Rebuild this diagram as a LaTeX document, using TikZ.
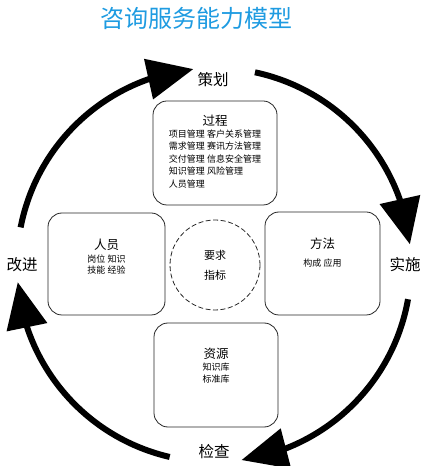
\documentclass[tikz,border=0pt]{standalone}
\usepackage{fontspec}
\setmainfont{Noto Sans CJK SC}
\newfontfamily\cjk{Noto Sans CJK SC}
\usetikzlibrary{arrows.meta,bending}
\definecolor{titleblue}{RGB}{30,155,225}
\tikzset{
  box/.style={draw=black!85, line width=0.8pt, rounded corners=14pt, align=center},
  lbl/.style={font=\cjk\fontsize{15.5}{18}\selectfont},
  small/.style={font=\cjk\fontsize{9}{12.5}\selectfont},
  cyc/.style={line width=6pt, -{Triangle[length=46pt,width=40pt]}}
}
\begin{document}
\begin{tikzpicture}[x=1pt, y=1pt]
\useasboundingbox (0,0) rectangle (428,466);
\node[font=\cjk\fontsize{24}{26}\selectfont, text=titleblue] (title) at (196, 448) {咨询服务能力模型};
\coordinate (c) at (214, 201);
\node[lbl] (plan) at (213, 386) {策划};
\node[lbl] (do) at (405, 201) {实施};
\node[lbl] (check) at (214, 14) {检查};
\node[lbl] (act) at (22, 201) {改进};
\node[box, minimum width=124pt, minimum height=104pt, small] (proc) at (215, 313)
  {\begin{tabular}{@{}l@{}}\multicolumn{1}{@{}c@{}}{\fontsize{12.5}{14}\selectfont 过程}\\[-1pt]
   项目管理 客户关系管理\\ 需求管理 赛讯方法管理\\ 交付管理 信息安全管理\\ 知识管理 风险管理\\ 人员管理\end{tabular}};
\node[box, minimum width=117pt, minimum height=102pt, small] (staff) at (106.5, 202)
  {{\fontsize{12.5}{14}\selectfont 人员}\\[1pt] 岗位 知识\\[-2pt] 技能 经验\\[3pt]};
\node[box, minimum width=115pt, minimum height=103pt, small] (meth) at (322.5, 202.5)
  {{\fontsize{12.5}{14}\selectfont 方法}\\[5pt] 构成\ 应用\\[10pt]};
\node[box, minimum width=124pt, minimum height=104pt, small] (res) at (216, 91)
  {{\fontsize{12.5}{14}\selectfont 资源}\\[-1pt] 知识库\\ 标准库\\[6pt]};
\node[draw=black!85, line width=0.8pt, dash pattern=on 5pt off 2.5pt, circle, minimum size=90pt,
  small, align=center, font=\cjk\fontsize{11}{20}\selectfont] (req) at (215, 201) {要求\\指标};
\draw[cyc] ([shift={(169:197)}]c) arc[start angle=169, end angle=96, radius=197];
\draw[cyc] ([shift={(78:197)}]c) arc[start angle=78, end angle=6, radius=197];
\draw[cyc] ([shift={(-10:197)}]c) arc[start angle=-10, end angle=-82, radius=197];
\draw[cyc] ([shift={(-103:197)}]c) arc[start angle=-103, end angle=-175, radius=197];
\end{tikzpicture}
\end{document}
